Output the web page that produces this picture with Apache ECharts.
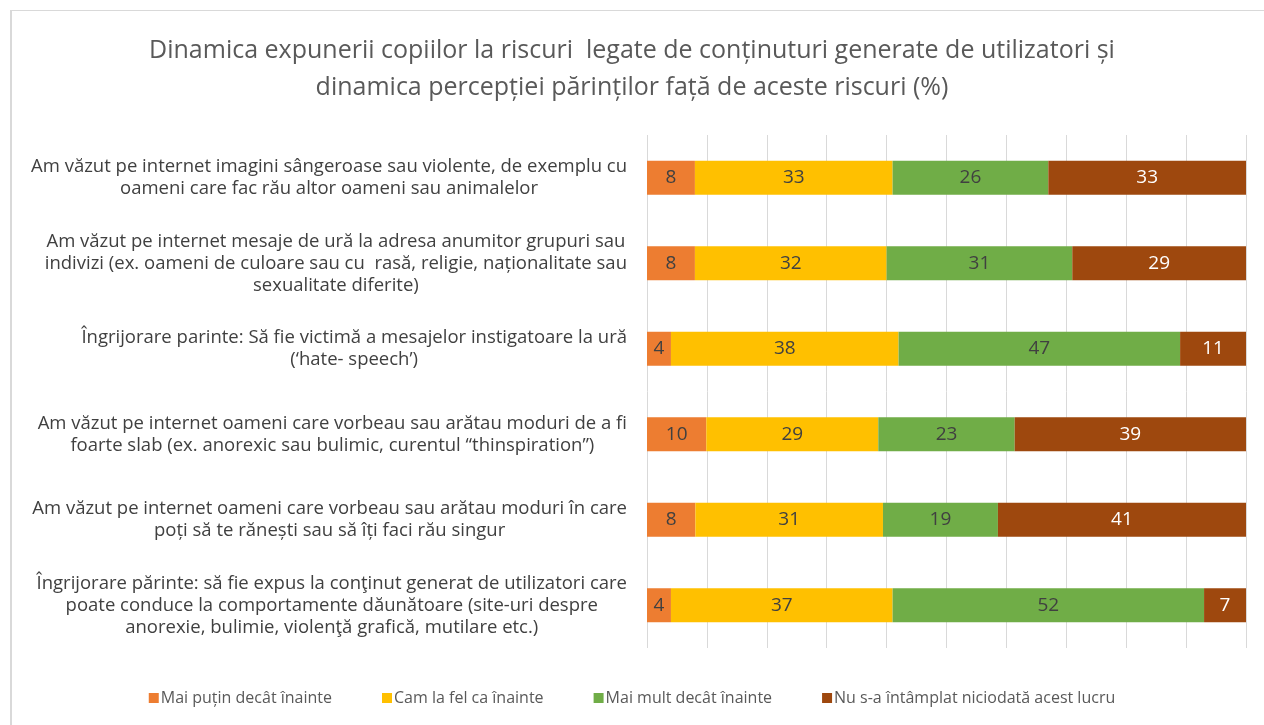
<!DOCTYPE html>
<html>
<head>
    <meta charset="UTF-8">
    <title>Dinamica expunerii copiilor</title>
    <script src="https://cdn.jsdelivr.net/npm/echarts@6/dist/echarts.min.js"></script>
    <style>
        body { margin: 0; background: #fff; }
        #frame { position: absolute; left: 10px; top: 10px; width: 1300px; height: 800px;
                 border-left: 2px solid #d9d9d9; border-top: 1px solid #d9d9d9; }
        #chart { position: absolute; left: 0; top: 0; width: 1264px; height: 725px; }
    </style>
</head>
<body>
    <div id="frame"></div>
    <div id="chart"></div>
    <script>
        var categories = [
            'Am văzut pe internet imagini sângeroase sau violente, de exemplu cu\noameni care fac rău altor oameni sau animalelor',
            'Am văzut pe internet mesaje de ură la adresa anumitor grupuri sau\nindivizi (ex. oameni de culoare sau cu  rasă, religie, naționalitate sau\nsexualitate diferite)',
            'Îngrijorare parinte: Să fie victimă a mesajelor instigatoare la ură\n(‘hate- speech’)',
            'Am văzut pe internet oameni care vorbeau sau arătau moduri de a fi\nfoarte slab (ex. anorexic sau bulimic, curentul “thinspiration”)',
            'Am văzut pe internet oameni care vorbeau sau arătau moduri în care\npoți să te rănești sau să îți faci rău singur',
            'Îngrijorare părinte: să fie expus la conţinut generat de utilizatori care\npoate conduce la comportamente dăunătoare (site-uri despre\nanorexie, bulimie, violenţă grafică, mutilare etc.)'
        ];
        var seriesNames = ['Mai puțin decât înainte', 'Cam la fel ca înainte', 'Mai mult decât înainte', 'Nu s-a întâmplat niciodată acest lucru'];
        var lessThanBefore = [8, 8, 4, 10, 8, 4];
        var sameAsBefore = [33, 32, 38, 29, 31, 37];
        var moreThanBefore = [26, 31, 47, 23, 19, 52];
        var neverHappened = [33, 29, 11, 39, 41, 7];
        var colors = ['#ED7D31', '#FFC000', '#70AD47', '#9E480E'];

        var rows = [lessThanBefore, sameAsBefore, moreThanBefore, neverHappened];
        // 100% stacked: each row scaled to its own total, label shows the raw value
        var totals = categories.map(function (c, i) {
            return rows.reduce(function (s, r) { return s + r[i]; }, 0);
        });

        var chart = echarts.init(document.getElementById('chart'), null, {renderer: 'canvas'});
        var font = '"Open Sans", sans-serif';

        chart.setOption({
            animation: false,
            textStyle: {fontFamily: font},
            title: {
                text: 'Dinamica expunerii copiilor la riscuri  legate de conținuturi generate de utilizatori și\ndinamica percepției părinților față de aceste riscuri (%)',
                left: 'center',
                top: 27,
                textStyle: {fontFamily: font, fontSize: 25, fontWeight: 'normal', color: '#595959', lineHeight: 37}
            },
            legend: {
                bottom: 14,
                left: 'center',
                itemWidth: 10,
                itemHeight: 10,
                itemGap: 50,
                icon: 'rect',
                textStyle: {fontFamily: font, fontSize: 16, color: '#595959', padding: [0, 0, 0, -3]},
                data: seriesNames
            },
            grid: {left: 647, right: 18, top: 135, bottom: 77, containLabel: false},
            xAxis: {
                type: 'value',
                min: 0,
                max: 100,
                interval: 10,
                axisLabel: {show: false},
                axisLine: {show: false},
                axisTick: {show: false},
                splitLine: {lineStyle: {color: '#d9d9d9', width: 1}}
            },
            yAxis: {
                type: 'category',
                inverse: true,
                data: categories,
                axisLine: {show: false},
                axisTick: {show: false},
                axisLabel: {
                    margin: 20,
                    align: 'right',
                    formatter: function (v) {
                        return v.split('\n').map(function (s) { return '{a|' + s + '}'; }).join('\n');
                    },
                    rich: {
                        a: {align: 'center', fontFamily: font, fontSize: 18.5, color: '#404040', lineHeight: 22}
                    }
                }
            },
            series: rows.map(function (r, k) {
                return {
                    name: seriesNames[k],
                    type: 'bar',
                    stack: 'total',
                    barWidth: 34,
                    itemStyle: {color: colors[k]},
                    label: {
                        show: true,
                        position: 'inside',
                        fontFamily: font,
                        fontSize: 19,
                        color: k === 3 ? '#ffffff' : '#404040',
                        formatter: function (p) { return r[p.dataIndex]; }
                    },
                    data: r.map(function (v, i) { return v / totals[i] * 100; })
                };
            })
        });
    </script>
</body>
</html>
